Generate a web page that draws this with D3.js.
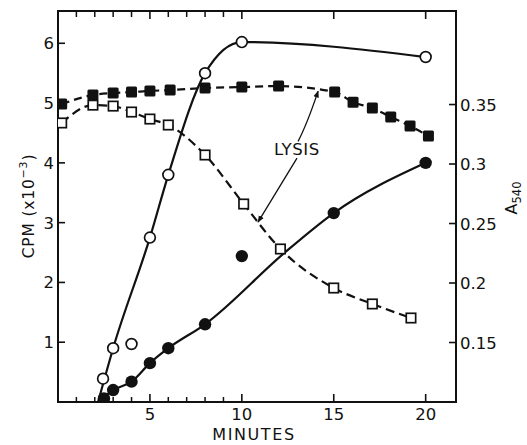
<!DOCTYPE html>
<html>
<head>
<meta charset="utf-8">
<script src="https://cdn.jsdelivr.net/npm/d3@7"></script>
<style>
  html, body { margin: 0; padding: 0; background: #fff; }
  svg { display: block; }
  text { font-family: "DejaVu Sans", "Liberation Sans", sans-serif; fill: #111; }
</style>
</head>
<body>
<svg id="chart" width="527" height="445"></svg>
<script>
// ---------- data ----------
const xMajorTicks = [5, 10, 15, 20];
const xMinorTicks = [1, 2, 3, 4, 6, 7, 8, 9];
const cpmTicks = [1, 2, 3, 4, 5, 6];
const a540Ticks = [0.15, 0.2, 0.25, 0.3, 0.35];
const a540TickLabels = ["0.15", "0.2", "0.25", "0.3", "0.35"];

// open circles, CPM (x10^-3)
const openCircleMin = [2.45, 3, 4, 5, 6, 8, 10, 20];
const openCircleCPM = [0.39, 0.9, 0.97, 2.75, 3.8, 5.5, 6.02, 5.77];
// drawn curve through the open circles
const openFitMin = [2.18, 3, 5, 6, 8, 10, 20];
const openFitCPM = [0, 0.9, 2.75, 3.8, 5.5, 6.02, 5.77];

// filled circles, CPM (x10^-3)
const filledCircleMin = [2.5, 3, 4, 5, 6, 8, 10, 15, 20];
const filledCircleCPM = [0.06, 0.2, 0.34, 0.65, 0.9, 1.3, 2.44, 3.16, 4.0];
// drawn curve through the filled circles
const filledFitMin = [2.2, 3, 4, 5, 6, 8, 12.3, 15, 20];
const filledFitCPM = [0, 0.2, 0.34, 0.65, 0.9, 1.3, 2.49, 3.16, 4.0];

// filled squares, A540
const filledSquareMin = [0.2, 1.9, 3, 4, 5, 6.1, 8, 10, 12, 15.05, 16.05, 17.1, 18.1, 19.15, 20.15];
const filledSquareA = [0.3504, 0.358, 0.3597, 0.3605, 0.3614, 0.3622, 0.3639, 0.3647, 0.3655, 0.3605, 0.352, 0.347, 0.3395, 0.332, 0.3235];

// open squares, A540
const openSquareMin = [0.2, 1.9, 3, 4, 5, 6, 8, 10.1, 12.1, 15, 17.1, 19.2];
const openSquareA = [0.3345, 0.3495, 0.3487, 0.3437, 0.3378, 0.3328, 0.3076, 0.2664, 0.2286, 0.1958, 0.1824, 0.1706];

// LYSIS annotation (minutes, CPM)
const lysisLabel = { text: "LYSIS", min: 13.0, cpm: 4.13 };
const lysisUpper = { from: [13.06, 4.36], ctrl: [13.55, 4.65], to: [14.15, 5.2] };
const lysisLower = { from: [13.0, 4.08], to: [10.88, 3.01] };

// ---------- layout ----------
const svg = d3.select("#chart");
const L = 58, R = 456, T = 11, B = 402;

const x = d3.scaleLinear().domain([0, 21.65]).range([L, R]);
const yL = d3.scaleLinear().domain([0, 6.54]).range([B, T]);
const yR = d3.scaleLinear().domain([0.1, 0.4286]).range([B, T]);

const zip = (a, b) => a.map((v, i) => [v, b[i]]);

svg.append("defs").append("clipPath").attr("id", "plotclip")
  .append("rect").attr("x", L).attr("y", T).attr("width", R - L).attr("height", B - T);

svg.select("defs").append("marker")
  .attr("id", "arrow").attr("viewBox", "0 0 10 10")
  .attr("refX", 9).attr("refY", 5)
  .attr("markerWidth", 7).attr("markerHeight", 7)
  .attr("markerUnits", "userSpaceOnUse")
  .attr("orient", "auto")
  .append("path").attr("d", "M0,1 L10,5 L0,9 Z").attr("fill", "#111");

// ---------- frame and ticks ----------
const frame = svg.append("g");
frame.append("rect").attr("x", L).attr("y", T).attr("width", R - L).attr("height", B - T)
  .attr("fill", "none").attr("stroke", "#111").attr("stroke-width", 2);

// bottom and top ticks (inward)
frame.selectAll(".xmaj").data(xMajorTicks).enter().append("g").each(function(d) {
  const g = d3.select(this);
  g.append("line").attr("x1", x(d)).attr("x2", x(d)).attr("y1", B).attr("y2", B - 8)
    .attr("stroke", "#111").attr("stroke-width", 1.6);
  g.append("line").attr("x1", x(d)).attr("x2", x(d)).attr("y1", T).attr("y2", T + 8)
    .attr("stroke", "#111").attr("stroke-width", 1.6);
});
frame.selectAll(".xmin").data(xMinorTicks).enter().append("g").each(function(d) {
  const g = d3.select(this);
  g.append("line").attr("x1", x(d)).attr("x2", x(d)).attr("y1", B).attr("y2", B - 5)
    .attr("stroke", "#111").attr("stroke-width", 1.5);
  g.append("line").attr("x1", x(d)).attr("x2", x(d)).attr("y1", T).attr("y2", T + 6)
    .attr("stroke", "#111").attr("stroke-width", 1.5);
});
frame.selectAll(".xlab").data(xMajorTicks).enter().append("text")
  .attr("x", d => x(d)).attr("y", 420)
  .attr("text-anchor", "middle").attr("font-size", 16.5)
  .text(d => d);

// left axis
frame.selectAll(".ylt").data(cpmTicks).enter().append("line")
  .attr("x1", L).attr("x2", L + 7).attr("y1", d => yL(d)).attr("y2", d => yL(d))
  .attr("stroke", "#111").attr("stroke-width", 1.6);
frame.selectAll(".yll").data(cpmTicks).enter().append("text")
  .attr("x", 54).attr("y", d => yL(d) + 6)
  .attr("text-anchor", "end").attr("font-size", 16.5)
  .text(d => d);

// right axis
frame.selectAll(".yrt").data(a540Ticks).enter().append("line")
  .attr("x1", R).attr("x2", R - 7).attr("y1", d => yR(d)).attr("y2", d => yR(d))
  .attr("stroke", "#111").attr("stroke-width", 1.6);
frame.selectAll(".yrl").data(a540Ticks).enter().append("text")
  .attr("x", 460).attr("y", d => yR(d) + 6)
  .attr("text-anchor", "start").attr("font-size", 16.5)
  .text((d, i) => a540TickLabels[i]);

// axis titles
svg.append("text").attr("x", 254).attr("y", 440)
  .attr("text-anchor", "middle").attr("font-size", 16).attr("letter-spacing", 1.6)
  .text("MINUTES");

const cpmTitle = svg.append("text")
  .attr("transform", "translate(34,206) rotate(-90)")
  .attr("text-anchor", "middle").attr("font-size", 15.5).attr("letter-spacing", 0.8);
cpmTitle.append("tspan").text("CPM  (x10");
cpmTitle.append("tspan").attr("font-size", 11).attr("dy", -7).text("−3");
cpmTitle.append("tspan").attr("dy", 7).text(")");

const aTitle = svg.append("text")
  .attr("transform", "translate(517,198) rotate(-90)")
  .attr("text-anchor", "middle").attr("font-size", 16);
aTitle.append("tspan").text("A");
aTitle.append("tspan").attr("font-size", 11.5).attr("dy", 4).text("540");

// ---------- lines ----------
const plot = svg.append("g").attr("clip-path", "url(#plotclip)");

const lineL = d3.line().x(d => x(d[0])).y(d => yL(d[1])).curve(d3.curveMonotoneX);
const lineR = d3.line().x(d => x(d[0])).y(d => yR(d[1])).curve(d3.curveMonotoneX);

plot.append("path").datum(zip(filledSquareMin, filledSquareA)).attr("d", lineR)
  .attr("fill", "none").attr("stroke", "#111").attr("stroke-width", 2.2)
  .attr("stroke-dasharray", "8,5");
plot.append("path").datum(zip(openSquareMin, openSquareA)).attr("d", lineR)
  .attr("fill", "none").attr("stroke", "#111").attr("stroke-width", 2.2)
  .attr("stroke-dasharray", "9,5");
plot.append("path").datum(zip(openFitMin, openFitCPM)).attr("d", lineL)
  .attr("fill", "none").attr("stroke", "#111").attr("stroke-width", 2.2);
plot.append("path").datum(zip(filledFitMin, filledFitCPM)).attr("d", lineL)
  .attr("fill", "none").attr("stroke", "#111").attr("stroke-width", 2.2);

// ---------- markers ----------
const S = 11;
plot.selectAll(".fsq").data(zip(filledSquareMin, filledSquareA)).enter().append("rect")
  .attr("x", d => x(d[0]) - S / 2).attr("y", d => yR(d[1]) - S / 2)
  .attr("width", S).attr("height", S).attr("rx", 1.5)
  .attr("fill", "#111");
plot.selectAll(".osq").data(zip(openSquareMin, openSquareA)).enter().append("rect")
  .attr("x", d => x(d[0]) - (S - 1.6) / 2).attr("y", d => yR(d[1]) - (S - 1.6) / 2)
  .attr("width", S - 1.6).attr("height", S - 1.6)
  .attr("fill", "#fff").attr("stroke", "#111").attr("stroke-width", 1.7);
plot.selectAll(".fc").data(zip(filledCircleMin, filledCircleCPM)).enter().append("circle")
  .attr("cx", d => x(d[0])).attr("cy", d => yL(d[1])).attr("r", 6.2)
  .attr("fill", "#111");
plot.selectAll(".oc").data(zip(openCircleMin, openCircleCPM)).enter().append("circle")
  .attr("cx", d => x(d[0])).attr("cy", d => yL(d[1])).attr("r", 5.4)
  .attr("fill", "#fff").attr("stroke", "#111").attr("stroke-width", 1.7);

// ---------- LYSIS annotation ----------
svg.append("text").attr("x", x(lysisLabel.min)).attr("y", yL(lysisLabel.cpm))
  .attr("text-anchor", "middle").attr("font-size", 16.5).attr("letter-spacing", 0.6)
  .text(lysisLabel.text);

const up = d3.path();
up.moveTo(x(lysisUpper.from[0]), yL(lysisUpper.from[1]));
up.quadraticCurveTo(x(lysisUpper.ctrl[0]), yL(lysisUpper.ctrl[1]), x(lysisUpper.to[0]), yL(lysisUpper.to[1]));
svg.append("path").attr("d", up.toString()).attr("fill", "none")
  .attr("stroke", "#111").attr("stroke-width", 1.3).attr("marker-end", "url(#arrow)");

svg.append("path")
  .attr("d", d3.line()([[x(lysisLower.from[0]), yL(lysisLower.from[1])], [x(lysisLower.to[0]), yL(lysisLower.to[1])]]))
  .attr("fill", "none").attr("stroke", "#111").attr("stroke-width", 1.3).attr("marker-end", "url(#arrow)");
</script>
</body>
</html>
